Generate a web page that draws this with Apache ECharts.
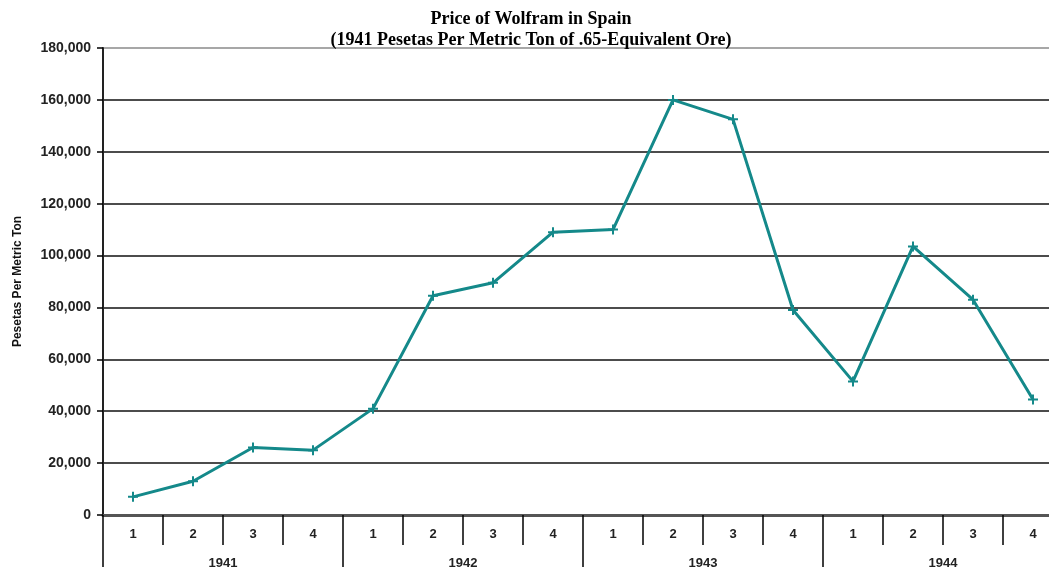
<!DOCTYPE html>
<html>
<head>
<meta charset="utf-8">
<script src="https://cdn.jsdelivr.net/npm/echarts@6/dist/echarts.min.js"></script>
<style>
  html, body { margin: 0; padding: 0; background: #fff; }
  #chart { width: 1049px; height: 567px; }
</style>
</head>
<body>
<div id="chart"></div>
<script>
// quarters of each year, left to right
const quarters = ['1', '2', '3', '4', '1', '2', '3', '4', '1', '2', '3', '4', '1', '2', '3', '4'];
const years = ['1941', '1942', '1943', '1944'];
// pesetas per metric ton (1941 pesetas)
const prices = [7000, 13000, 26000, 25000, 41000, 84500, 89500, 109000,
  110000, 160000, 152500, 79000, 51500, 103500, 83000, 44500];
const yTicks = { min: 0, max: 180000, step: 20000 };

const teal = '#14898a';
const plus = 'path://M4,0H6V4H10V6H6V10H4V6H0V4H4Z';

const myChart = echarts.init(document.getElementById('chart'));
const option = {
  animation: false,
  title: {
    text: 'Price of Wolfram in Spain\n(1941 Pesetas Per Metric Ton of .65-Equivalent Ore)',
    left: 531,
    top: 9,
    textAlign: 'center',
    padding: 0,
    textStyle: {
      fontFamily: '"Liberation Serif", "DejaVu Serif", serif',
      fontWeight: 'bold',
      fontSize: 18,
      lineHeight: 21,
      color: '#000'
    }
  },
  // plot runs past the right edge of the picture, as in the reference
  grid: { left: 103, top: 48, width: 960, height: 467, outerBoundsMode: 'none' },
  xAxis: [
    {
      type: 'category',
      data: quarters,
      boundaryGap: true,
      axisLine: { show: true, lineStyle: { color: '#555', width: 3 } },
      axisTick: { show: true, length: 30, lineStyle: { color: '#000', width: 1.5 } },
      axisLabel: {
        margin: 13,
        fontFamily: '"Liberation Sans", Arial, sans-serif',
        fontWeight: 'bold',
        fontSize: 13,
        color: '#222'
      }
    },
    {
      type: 'category',
      data: years,
      position: 'bottom',
      boundaryGap: true,
      axisLine: { show: false },
      axisTick: { show: true, length: 60, lineStyle: { color: '#000', width: 1.5 } },
      axisLabel: {
        margin: 42,
        fontFamily: '"Liberation Sans", Arial, sans-serif',
        fontWeight: 'bold',
        fontSize: 13,
        color: '#222'
      }
    }
  ],
  yAxis: {
    type: 'value',
    min: yTicks.min,
    max: yTicks.max,
    interval: yTicks.step,
    name: 'Pesetas Per Metric Ton',
    nameLocation: 'middle',
    nameRotate: 90,
    nameGap: 79,
    nameTextStyle: {
      fontFamily: '"Liberation Sans Narrow", "Arial Narrow", "Liberation Sans", sans-serif',
      fontWeight: 'bold',
      fontSize: 12,
      color: '#111'
    },
    axisLine: { show: true, lineStyle: { color: '#222', width: 2 } },
    axisTick: { show: true, length: 6, lineStyle: { color: '#000', width: 1.5 } },
    axisLabel: {
      margin: 12,
      fontFamily: '"Liberation Sans", Arial, sans-serif',
      fontWeight: 'bold',
      fontSize: 14,
      color: '#222',
      formatter: v => v.toLocaleString('en-US')
    },
    splitLine: {
      show: true,
      lineStyle: {
        color: ['#555', '#111', '#111', '#111', '#111', '#111', '#111', '#111', '#111', '#8a8a8a'],
        width: 1.5
      }
    }
  },
  series: [
    {
      type: 'line',
      data: prices,
      xAxisIndex: 0,
      symbol: plus,
      symbolSize: 10,
      showAllSymbol: true,
      lineStyle: { color: teal, width: 3 },
      itemStyle: { color: teal },
      z: 5
    }
  ]
};

option && myChart.setOption(option);
</script>
</body>
</html>
